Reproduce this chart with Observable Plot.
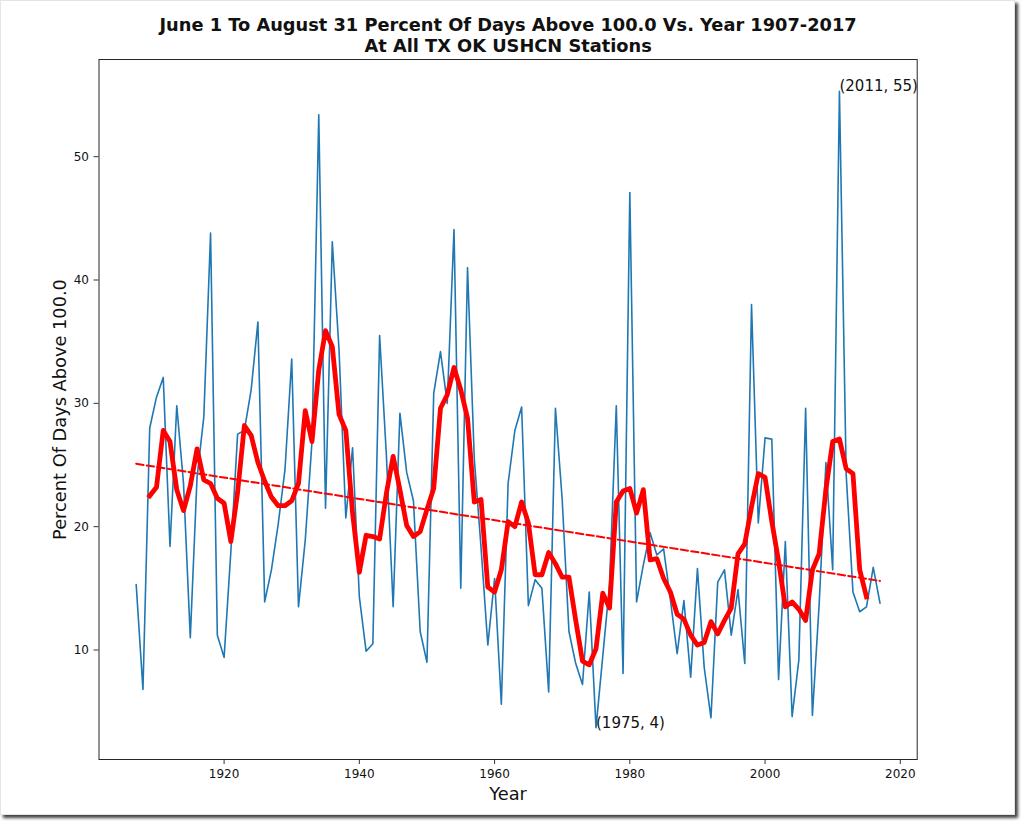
<!DOCTYPE html>
<html><head><meta charset="utf-8">
<script src="https://cdn.jsdelivr.net/npm/d3@7"></script>
<script src="https://cdn.jsdelivr.net/npm/@observablehq/plot@0.6"></script>
<style>
html,body{margin:0;padding:0;background:#fff;}
#page{position:relative;width:1024px;height:826px;overflow:hidden;background:#fff;}
#card{position:absolute;left:0;top:0;width:1013px;height:813px;border:1px solid #e4e4e4;box-shadow:3px 3px 3px rgba(0,0,0,0.75);background:#fff;}
#chart{position:absolute;left:0;top:0;}
</style></head><body>
<div id="page"><div id="card"></div><div id="chart"></div></div>
<script>
const years = [1907,1908,1909,1910,1911,1912,1913,1914,1915,1916,1917,1918,1919,1920,1921,1922,1923,1924,1925,1926,1927,1928,1929,1930,1931,1932,1933,1934,1935,1936,1937,1938,1939,1940,1941,1942,1943,1944,1945,1946,1947,1948,1949,1950,1951,1952,1953,1954,1955,1956,1957,1958,1959,1960,1961,1962,1963,1964,1965,1966,1967,1968,1969,1970,1971,1972,1973,1974,1975,1976,1977,1978,1979,1980,1981,1982,1983,1984,1985,1986,1987,1988,1989,1990,1991,1992,1993,1994,1995,1996,1997,1998,1999,2000,2001,2002,2003,2004,2005,2006,2007,2008,2009,2010,2011,2012,2013,2014,2015,2016,2017];
const percentAbove = [15.3,6.8,28.0,30.5,32.1,18.4,29.8,23.5,11.0,24.0,28.9,43.8,11.2,9.4,18.0,27.5,27.8,31.1,36.6,13.9,16.5,20.2,24.6,33.6,13.5,18.9,26.9,53.4,21.5,43.1,34.3,20.7,26.4,14.3,9.9,10.5,35.5,25.8,13.5,29.2,24.4,22.1,11.5,9.0,30.8,34.2,30.0,44.1,15.0,41.0,25.5,18.3,10.4,15.8,5.6,23.5,27.8,29.7,13.6,15.7,15.0,6.6,29.6,22.2,11.5,8.9,7.2,14.7,3.7,9.5,15.3,29.8,8.1,47.1,13.9,16.9,19.5,17.7,18.2,14.1,9.7,14.0,7.8,16.6,8.6,4.5,15.5,16.5,11.2,14.9,8.9,38.0,20.3,27.2,27.1,7.6,18.8,4.6,9.2,29.6,4.7,13.7,25.2,16.5,55.3,24.2,14.7,13.1,13.5,16.7,13.8];
const avgYears = [1909,1910,1911,1912,1913,1914,1915,1916,1917,1918,1919,1920,1921,1922,1923,1924,1925,1926,1927,1928,1929,1930,1931,1932,1933,1934,1935,1936,1937,1938,1939,1940,1941,1942,1943,1944,1945,1946,1947,1948,1949,1950,1951,1952,1953,1954,1955,1956,1957,1958,1959,1960,1961,1962,1963,1964,1965,1966,1967,1968,1969,1970,1971,1972,1973,1974,1975,1976,1977,1978,1979,1980,1981,1982,1983,1984,1985,1986,1987,1988,1989,1990,1991,1992,1993,1994,1995,1996,1997,1998,1999,2000,2001,2002,2003,2004,2005,2006,2007,2008,2009,2010,2011,2012,2013,2014,2015];
const movingAvg = [22.5,23.2,27.8,26.9,23.0,21.3,23.3,26.3,23.8,23.5,22.3,21.9,18.8,22.8,28.2,27.4,25.2,23.7,22.4,21.7,21.7,22.1,23.5,29.4,26.9,32.7,35.9,34.6,29.1,27.8,21.1,16.3,19.3,19.2,19.0,22.7,25.7,23.0,20.1,19.2,19.6,21.4,23.1,29.6,30.7,32.9,31.1,28.8,22.0,22.2,15.1,14.7,16.5,20.4,20.0,22.0,20.3,16.1,16.1,17.9,17.0,15.9,15.9,12.4,9.1,8.8,10.1,14.6,13.4,22.0,22.9,23.1,21.1,23.0,17.3,17.4,15.8,14.7,12.9,12.5,11.2,10.4,10.6,12.3,11.3,12.4,13.4,17.8,18.6,21.6,24.3,24.0,20.4,17.2,13.5,13.9,13.3,12.4,16.5,17.8,23.0,26.9,27.1,24.7,24.3,16.5,14.3];
const trendYears = [1907, 2017];
const trendValues = [25.1, 15.6];
const annotYears = [2011, 1975];
const annotValues = [55.3, 3.7];
const annotLabels = ["(2011, 55)", "(1975, 4)"];
const xTicks = [1920, 1940, 1960, 1980, 2000, 2020];
const yTicks = [10, 20, 30, 40, 50];
const titleLines = ["June 1 To August 31 Percent Of Days Above 100.0 Vs. Year 1907-2017", "At All TX OK USHCN Stations"];
const xLabel = "Year";
const yLabel = "Percent Of Days Above 100.0";

const raw = years.map((y, i) => ({year: y, value: percentAbove[i]}));
const avg = avgYears.map((y, i) => ({year: y, value: movingAvg[i]}));
const trend = trendYears.map((y, i) => ({year: y, value: trendValues[i]}));
const annots = annotYears.map((y, i) => ({year: y, value: annotValues[i], label: annotLabels[i]}));

const chart = Plot.plot({
  width: 1024, height: 826,
  marginTop: 59, marginLeft: 98.5, marginRight: 107.3, marginBottom: 67,
  style: {fontFamily: "DejaVu Sans", fontSize: "12px", background: "transparent", color: "#111", overflow: "visible"},
  x: {domain: [1901.5, 2022.5]},
  y: {domain: [1.12, 57.88]},
  marks: [
    Plot.axisX({ticks: xTicks, tickSize: 5, tickPadding: 5, tickFormat: d => String(d), label: null, fontSize: 12, stroke: "#333"}),
    Plot.axisY({ticks: yTicks, tickSize: 5, tickPadding: 5, tickFormat: d => String(d), label: null, fontSize: 12, stroke: "#333"}),
    Plot.line(raw, {x: "year", y: "value", stroke: "#1f77b4", strokeWidth: 1.6, strokeLinejoin: "round"}),
    Plot.line(trend, {x: "year", y: "value", stroke: "red", strokeWidth: 2, strokeDasharray: "7.4,3.2"}),
    Plot.line(avg, {x: "year", y: "value", stroke: "red", strokeWidth: 4.8, strokeLinejoin: "round", strokeLinecap: "square"}),
    Plot.text(annots, {x: "year", y: "value", text: "label", textAnchor: "start", lineAnchor: "middle", dy: -4.8, fontSize: 15, fill: "#111"}),
    Plot.frame({stroke: "#262626", strokeWidth: 1}),
    Plot.text([titleLines[0]], {frameAnchor: "top", lineAnchor: "middle", dy: -34, text: d => d, fontWeight: "bold", fontSize: 17.8, fill: "#111"}),
    Plot.text([titleLines[1]], {frameAnchor: "top", lineAnchor: "middle", dy: -13, text: d => d, fontWeight: "bold", fontSize: 17.8, fill: "#111"}),
    Plot.text([xLabel], {frameAnchor: "bottom", lineAnchor: "middle", dy: 34.6, text: d => d, fontSize: 17.8, fill: "#111"}),
    Plot.text([yLabel], {frameAnchor: "left", dx: -38.9, rotate: -90, textAnchor: "middle", lineAnchor: "middle", text: d => d, fontSize: 17.8, fill: "#111"})
  ]
});
document.getElementById("chart").appendChild(chart);
</script>
</body></html>
